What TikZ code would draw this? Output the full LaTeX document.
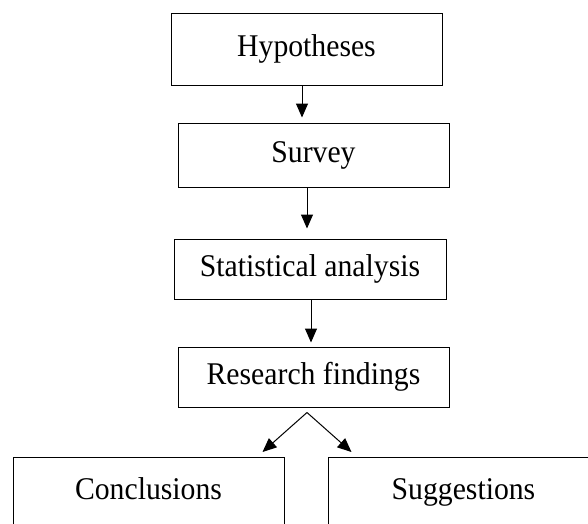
\documentclass[tikz,border=0pt]{standalone}
\usepackage{fontspec}
\setmainfont[FakeStretch=0.94]{Liberation Serif}
\usetikzlibrary{arrows.meta,calc}

\begin{document}
\begin{tikzpicture}[x=1pt,y=-1pt,>={Triangle[width=12pt,length=14pt]},
stage/.style={draw,line width=1pt,minimum height=60pt,align=center,inner sep=0pt,font=\fontsize{31.6}{38}\selectfont},
outcome/.style={stage,anchor=north,minimum width=271pt,text height=42pt,text depth=40pt},
flow/.style={->,line width=1pt}]
\useasboundingbox (0,0) rectangle (588,523);
\node[stage,minimum width=271pt,minimum height=72pt] (hyp) at (306.5,49) {Hypotheses};
\node[stage,minimum width=271pt,minimum height=64pt] (survey) at (313.5,155) {Survey};
\node[stage,minimum width=272pt] (stat) at (310,269) {Statistical analysis};
\node[stage,minimum width=271pt] (research) at (313.5,377) {Research findings};
\node[outcome] (concl) at (148.5,457) {Conclusions};
\node[outcome] (sugg) at (463.5,457) {Suggestions};
\coordinate (fork) at ($(research.south)+(-6.5,5)$);
\draw[flow,shorten >=5pt] ([xshift=-4.5pt]hyp.south) -- ([xshift=-11.5pt]survey.north);
\draw[flow,shorten >=10pt] ([xshift=-6.5pt]survey.south) -- ([xshift=-3pt]stat.north);
\draw[flow,shorten >=4pt] ([xshift=1pt]stat.south) -- ([xshift=-2.5pt]research.north);
\draw[flow] (fork) -- ($(concl.north east)+(-22,-5)$);
\draw[flow] (fork) -- ($(sugg.north west)+(24,-5)$);
\end{tikzpicture}
\end{document}
